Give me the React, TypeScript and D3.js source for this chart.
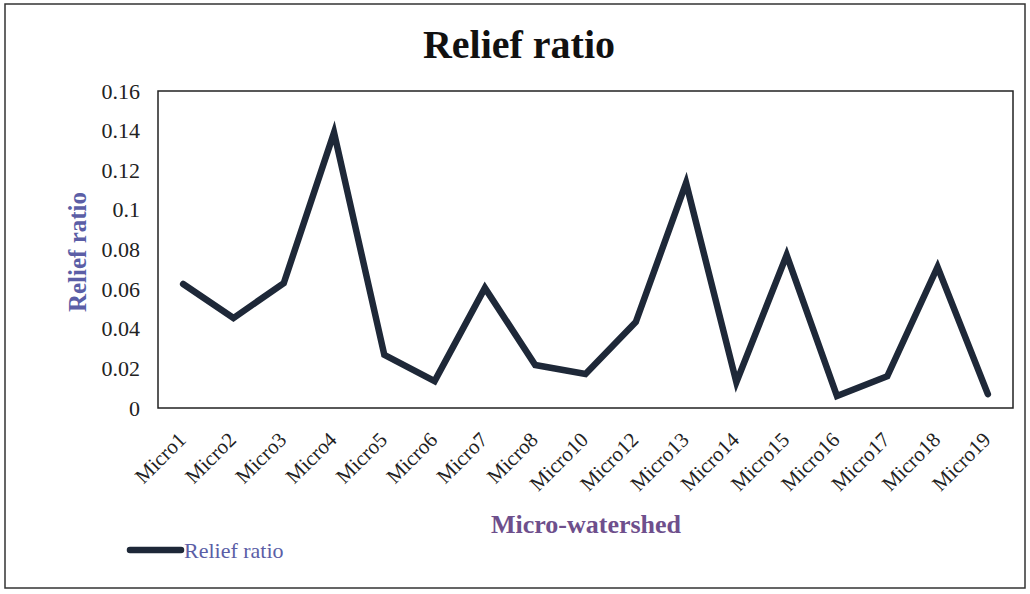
import React from "react";
import * as d3 from "d3";

const categories = ["Micro1","Micro2","Micro3","Micro4","Micro5","Micro6","Micro7","Micro8","Micro10","Micro12","Micro13","Micro14","Micro15","Micro16","Micro17","Micro18","Micro19"];
const reliefRatio = [0.0626,0.0454,0.063,0.139,0.0268,0.0136,0.0606,0.0217,0.0172,0.0434,0.1136,0.013,0.0772,0.006,0.016,0.0712,0.007];
const yTicks = [0, 0.02, 0.04, 0.06, 0.08, 0.1, 0.12, 0.14, 0.16];

const W = 1030, H = 594;
const plot = { left: 158, right: 1013, top: 91, bottom: 408 };

export default function App() {
  const x = d3.scaleBand<string>().domain(categories).range([plot.left, plot.right]);
  const y = d3.scaleLinear().domain([0, 0.16]).range([plot.bottom, plot.top]);
  const cx = (c: string) => (x(c) as number) + x.bandwidth() / 2;
  const line = d3.line<number>().x((_, i) => cx(categories[i])).y((d) => y(d));
  const serif = "'Liberation Serif', 'Times New Roman', serif";
  return (
    <svg width={W} height={H} style={{ position: "absolute", left: 0, top: 0, background: "#fff" }} fontFamily={serif}>
      <rect x={5} y={4} width={1020} height={584} fill="#fff" stroke="#333" strokeWidth={1.5} />
      <text x={519} y={58} textAnchor="middle" fontSize={40} fontWeight="bold" fill="#111">Relief ratio</text>
      <rect x={plot.left} y={plot.top} width={plot.right - plot.left} height={plot.bottom - plot.top} fill="none" stroke="#222" strokeWidth={1.5} />
      {yTicks.map((t) => (
        <text key={t} x={140} y={y(t) + 7.5} textAnchor="end" fontSize={22} fill="#222">{String(t)}</text>
      ))}
      <text transform={`translate(86,252) rotate(-90)`} textAnchor="middle" fontSize={25} fontWeight="bold" fill="#5b5ea6">Relief ratio</text>
      {categories.map((c) => (
        <text key={c} transform={`translate(${cx(c) + 4},${441}) rotate(-45)`} textAnchor="end" fontSize={21} fill="#222">{c}</text>
      ))}
      <path d={line(reliefRatio) || ""} fill="none" stroke="#1e2838" strokeWidth={6.5} strokeLinejoin="miter" strokeLinecap="round" />
      <text x={586} y={533} textAnchor="middle" fontSize={26} fontWeight="bold" fill="#6e4f8c">Micro-watershed</text>
      <line x1={130} x2={181} y1={550} y2={550} stroke="#1e2838" strokeWidth={6.5} strokeLinecap="round" />
      <text x={184} y={558} fontSize={22} fill="#5b5ea6">Relief ratio</text>
    </svg>
  );
}
